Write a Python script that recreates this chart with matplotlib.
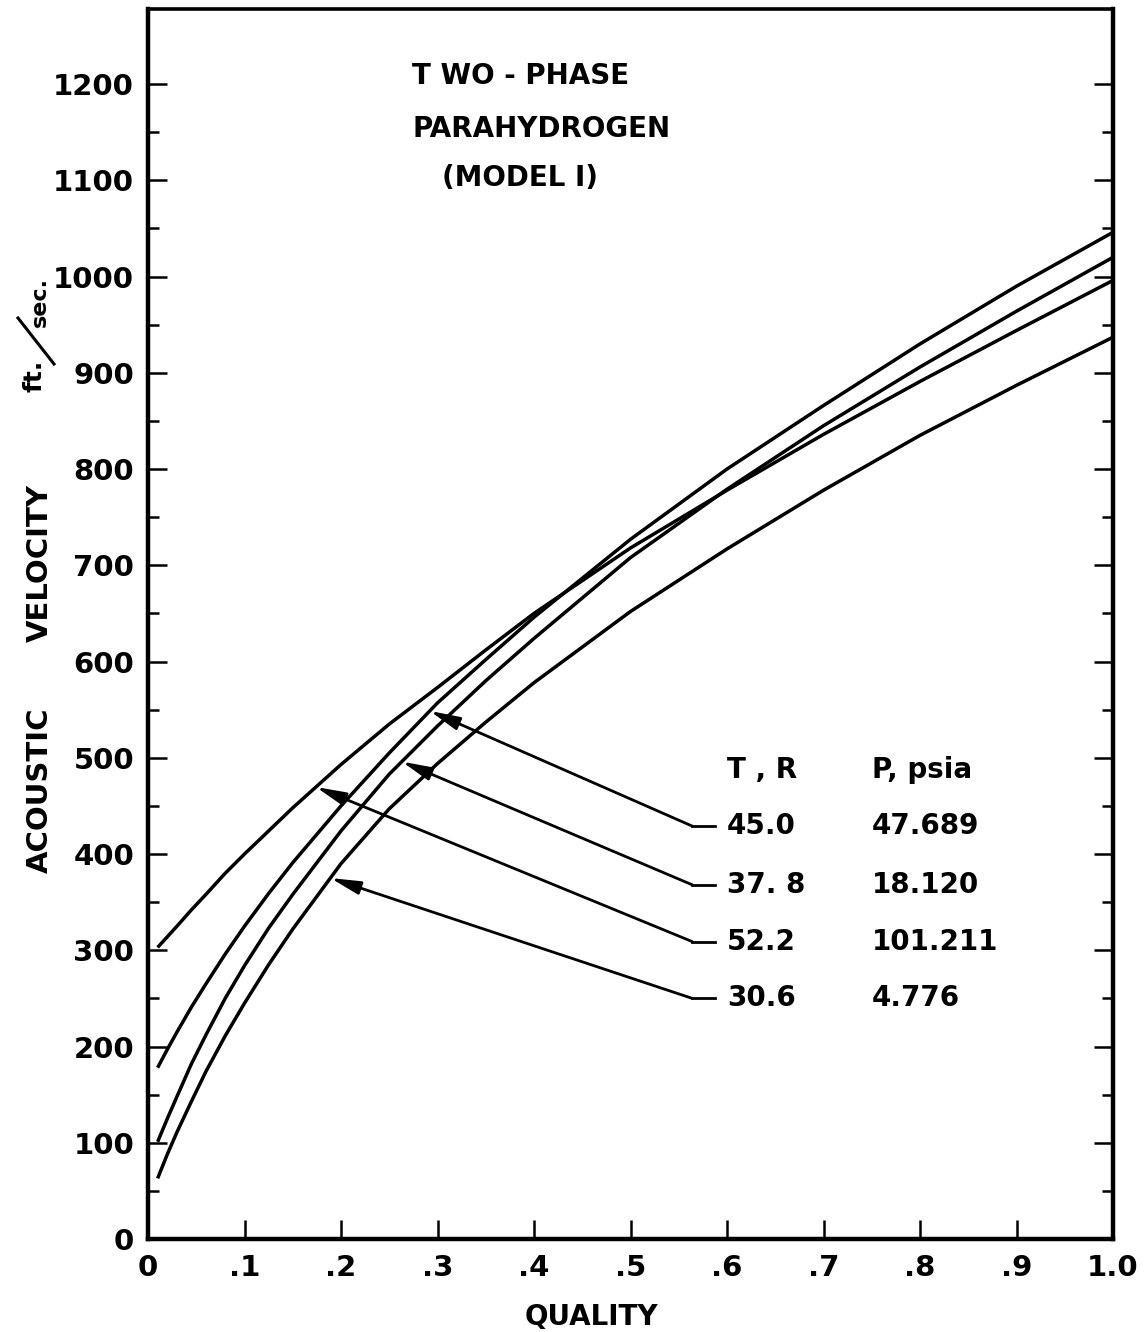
import matplotlib
matplotlib.use("Agg")
import matplotlib.pyplot as plt
import numpy as np
from matplotlib.lines import Line2D

# quality points
quality = [0.01, 0.02, 0.03, 0.045, 0.06, 0.08, 0.1, 0.125, 0.15, 0.2,
           0.25, 0.3, 0.35, 0.4, 0.5, 0.6, 0.7, 0.8, 0.9, 1.0]

# acoustic velocity, ft/sec, one list per isotherm
vel_52_2 = [303, 314, 325, 342, 358, 380, 400, 424, 448, 493,
            535, 573, 612, 650, 718, 778, 836, 891, 944, 996]
vel_45_0 = [178, 197, 215, 241, 265, 296, 325, 359, 391, 450,
            505, 557, 602, 646, 727, 800, 866, 930, 990, 1046]
vel_37_8 = [101, 125, 148, 182, 212, 250, 284, 323, 358, 424,
            483, 533, 580, 624, 708, 779, 845, 906, 964, 1020]
vel_30_6 = [63, 88, 111, 143, 174, 211, 245, 285, 322, 390,
            447, 494, 537, 578, 652, 717, 778, 835, 887, 937]

# label table, in the order it is printed
temps = ["45.0", "37. 8", "52.2", "30.6"]
pressures = ["47.689", "18.120", "101.211", "4.776"]
curves = [vel_45_0, vel_37_8, vel_52_2, vel_30_6]
arrow_q = [0.292, 0.263, 0.174, 0.189]   # where each arrow hits its curve
row_v = [429, 368, 309, 250]             # label rows, in velocity units

x_ticks = [0, 0.1, 0.2, 0.3, 0.4, 0.5, 0.6, 0.7, 0.8, 0.9, 1.0]
x_tick_labels = ["0", ".1", ".2", ".3", ".4", ".5", ".6", ".7", ".8", ".9", "1.0"]
y_ticks = list(range(0, 1300, 100))

FONT = "DejaVu Sans"
plt.rcParams["font.family"] = FONT
plt.rcParams["font.weight"] = "bold"

fig = plt.figure(figsize=(11.46, 13.32), dpi=100)
ax = fig.add_axes([148 / 1146, 1 - 1239 / 1332, 965 / 1146, 1230 / 1332])

for v in [vel_52_2, vel_45_0, vel_37_8, vel_30_6]:
    ax.plot(quality, v, color="black", lw=2.5, solid_capstyle="butt")

ax.set_xlim(0, 1.0)
ax.set_ylim(0, 1278)

ax.set_xticks(x_ticks)
ax.set_xticklabels(x_tick_labels)
ax.set_yticks(y_ticks)
ax.set_yticks(list(range(50, 1200, 100)), minor=True)

ax.tick_params(axis="x", which="major", direction="in", length=14, width=1.8,
               top=False, bottom=True, labelsize=21, pad=11)
ax.tick_params(axis="y", which="major", direction="in", length=14, width=1.8,
               left=True, right=True, labelsize=21, pad=10)
ax.tick_params(axis="y", which="minor", direction="in", length=8, width=1.8,
               left=True, right=True)
for lab in ax.get_xticklabels() + ax.get_yticklabels():
    lab.set_fontweight("bold")

for s in ["left", "bottom", "right"]:
    ax.spines[s].set_linewidth(3.2)
ax.spines["top"].set_linewidth(2.6)

# title block
ax.text(0.274, 1208, "T WO - PHASE", fontsize=20, ha="left", va="center")
ax.text(0.274, 1153, "PARAHYDROGEN", fontsize=20, ha="left", va="center")
ax.text(0.305, 1102, "(MODEL I)", fontsize=20, ha="left", va="center")

# label table with leader arrows
ax.text(0.600, 487, "T , R", fontsize=20, ha="left", va="center")
ax.text(0.750, 487, "P, psia", fontsize=20, ha="left", va="center")
for t, p, c, q, r in zip(temps, pressures, curves, arrow_q, row_v):
    ax.text(0.600, r, t, fontsize=20, ha="left", va="center")
    ax.text(0.750, r, p, fontsize=20, ha="left", va="center")
    ax.plot([0.564, 0.588], [r, r], color="black", lw=2.0)
    tip = np.interp(q, quality, c)
    ax.annotate("", xy=(q, tip), xytext=(0.564, r),
                arrowprops=dict(arrowstyle="-|>,head_length=0.9,head_width=0.2",
                                mutation_scale=20, color="black", lw=2.0,
                                shrinkA=0, shrinkB=0))

# axis titles
fig.text(591 / 1146, 1 - 1317 / 1332, "QUALITY", fontsize=20, ha="center", va="center")
fig.text(40 / 1146, 1 - 790 / 1332, "ACOUSTIC", fontsize=21, rotation=90,
         ha="center", va="center")
fig.text(40 / 1146, 1 - 563 / 1332, "VELOCITY", fontsize=21, rotation=90,
         ha="center", va="center")
fig.text(34 / 1146, 1 - 376 / 1332, "ft.", fontsize=18, rotation=90,
         ha="center", va="center")
fig.text(40 / 1146, 1 - 302 / 1332, "sec.", fontsize=16, rotation=90,
         ha="center", va="center")
fig.add_artist(Line2D([18 / 1146, 54 / 1146], [1 - 318 / 1332, 1 - 364 / 1332],
                      color="black", lw=2.2))

fig.savefig("out.png", dpi=100, facecolor="white")
